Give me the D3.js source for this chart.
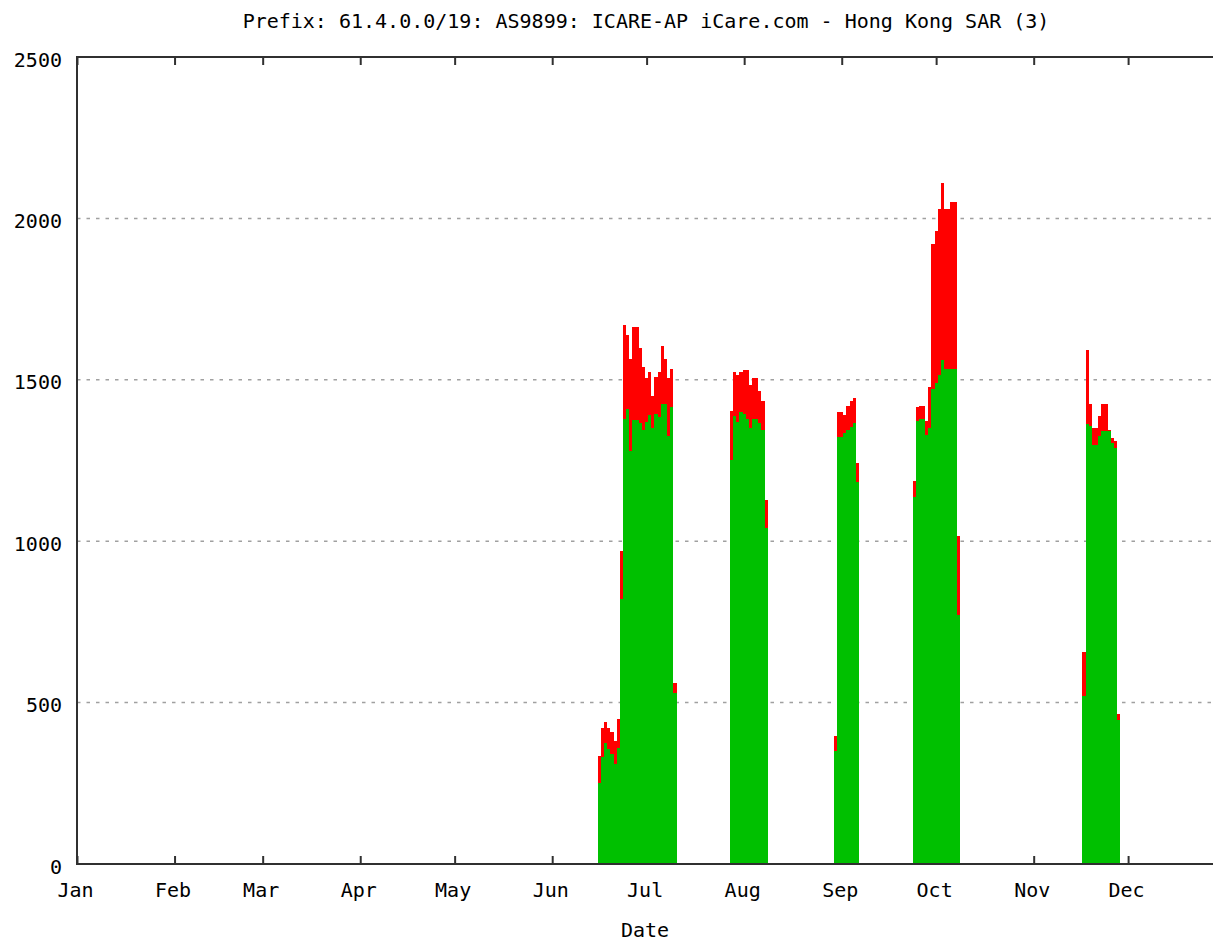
<!DOCTYPE html>
<html>
<head>
<meta charset="utf-8">
<script src="https://cdn.jsdelivr.net/npm/d3@7"></script>
<style>
  body { margin: 0; background: #fff; }
  text { font-family: "DejaVu Sans Mono", monospace; font-size: 20px; fill: #000; }
</style>
</head>
<body>
<div id="container"></div>
<script>
const width = 1213, height = 941;

// one entry per day (2003 calendar, x axis starts Jan 1)
const days = [
    "06-16", "06-17", "06-18", "06-19", "06-20", "06-21", "06-22", "06-23", "06-24", "06-25",
    "06-26", "06-27", "06-28", "06-29", "06-30", "07-01", "07-02", "07-03", "07-04", "07-05",
    "07-06", "07-07", "07-08", "07-09", "07-10",
    "07-28", "07-29", "07-30", "07-31", "08-01", "08-02", "08-03", "08-04", "08-05", "08-06",
    "08-07", "08-08",
    "08-30", "08-31", "09-01", "09-02", "09-03", "09-04", "09-05", "09-06",
    "09-24", "09-25", "09-26", "09-27", "09-28", "09-29", "09-30", "10-01", "10-02", "10-03",
    "10-04", "10-05", "10-06", "10-07", "10-08",
    "11-17", "11-18", "11-19", "11-20", "11-21", "11-22", "11-23", "11-24", "11-25", "11-26",
    "11-27", "11-28"
];

// green part (bottom of stack)
const greenVals = [
    250, 330, 375, 355, 340, 310, 360, 820, 1380, 1410,
    1280, 1375, 1375, 1365, 1345, 1370, 1390, 1350, 1395, 1385,
    1425, 1425, 1325, 1415, 530,
    1253, 1388, 1370, 1400, 1395, 1378, 1350, 1378, 1378, 1367,
    1345, 1040,
    350, 1322, 1322, 1335, 1345, 1355, 1366, 1184,
    1137, 1372, 1380, 1380, 1330, 1350, 1470, 1490, 1515, 1560,
    1535, 1535, 1535, 1535, 770,
    520, 1362, 1357, 1299, 1299, 1325, 1341, 1341, 1341, 1304,
    1289, 447
];

// red part (top of stack)
const redVals = [
    85, 90, 65, 65, 70, 70, 90, 150, 290, 230,
    285, 290, 290, 235, 195, 135, 135, 100, 115, 140,
    180, 140, 180, 120, 30,
    150, 135, 145, 125, 135, 152, 135, 129, 129, 99,
    90, 88,
    45, 78, 78, 55, 75, 80, 77, 57,
    48, 43, 40, 40, 42, 128, 450, 470, 515, 550,
    495, 495, 515, 515, 245,
    136, 230, 68, 52, 52, 63, 84, 84, 4, 16,
    21, 17
];

const yTicks = [0, 500, 1000, 1500, 2000, 2500];
const gridVals = [500, 1000, 1500, 2000];

const parse = d3.utcParse("%Y-%m-%d");
const rows = days.map((d, i) => ({
    date: parse("2003-" + d),
    green: greenVals[i],
    red: redVals[i]
}));

const plotLeft = 77, plotTop = 57, plotBottom = 864;
const dayPx = 3.147;

const x = d3.scaleUtc()
    .domain([parse("2003-01-01"), parse("2004-01-01")])
    .range([plotLeft, plotLeft + 365 * dayPx]);

const y = d3.scaleLinear()
    .domain([0, 2500])
    .range([plotBottom, plotTop]);

const svg = d3.select('#container')
    .append('svg')
    .attr('width', width)
    .attr('height', height);

svg.append('rect')
    .attr('width', width)
    .attr('height', height)
    .attr('fill', '#fff');

// dashed grid
svg.append('g')
    .selectAll('line')
    .data(gridVals)
    .enter()
    .append('line')
    .attr('x1', plotLeft)
    .attr('x2', width)
    .attr('y1', d => y(d))
    .attr('y2', d => y(d))
    .attr('stroke', '#a0a0a0')
    .attr('stroke-width', 1.5)
    .attr('stroke-dasharray', '3.5,6');

const months = d3.utcMonth.range(parse("2003-01-01"), parse("2004-01-01"));

// bottom axis, ticks pointing inward
const xAxis = svg.append('g')
    .attr('transform', `translate(0,${plotBottom})`)
    .call(d3.axisBottom(x)
        .tickValues(months)
        .tickFormat(d3.utcFormat("%b"))
        .tickSize(-8)
        .tickPadding(19));
xAxis.select('.domain').remove();
xAxis.selectAll('line').attr('stroke', '#303030').attr('stroke-width', 2);
xAxis.selectAll('text')
    .attr('x', -2)
    .style('font-family', '"DejaVu Sans Mono", monospace')
    .style('font-size', '20px');

// mirrored ticks on top
const xTop = svg.append('g')
    .attr('transform', `translate(0,${plotTop})`)
    .call(d3.axisTop(x)
        .tickValues(months)
        .tickFormat('')
        .tickSize(-8));
xTop.select('.domain').remove();
xTop.selectAll('line').attr('stroke', '#303030').attr('stroke-width', 2);

const yAxis = svg.append('g')
    .attr('transform', `translate(${plotLeft},0)`)
    .call(d3.axisLeft(y)
        .tickValues(yTicks)
        .tickFormat(d3.format('d'))
        .tickSize(0)
        .tickPadding(15));
yAxis.select('.domain').remove();
yAxis.selectAll('text')
    .attr('dy', '0.45em')
    .style('font-family', '"DejaVu Sans Mono", monospace')
    .style('font-size', '20px');

// stacked daily bars
const stack = d3.stack().keys(['green', 'red'])(rows);
const colors = { green: '#00c000', red: '#ff0000' };
const halfDay = 12 * 3600 * 1000;

svg.append('g')
    .selectAll('g')
    .data(stack)
    .enter()
    .append('g')
    .attr('fill', s => colors[s.key])
    .selectAll('rect')
    .data(s => s)
    .enter()
    .append('rect')
    .attr('x', d => x(new Date(+d.data.date - halfDay)))
    .attr('width', d => x(new Date(+d.data.date + halfDay)) - x(new Date(+d.data.date - halfDay)))
    .attr('y', d => y(d[1]))
    .attr('height', d => y(d[0]) - y(d[1]))
    .attr('shape-rendering', 'crispEdges');

// plot border (right side falls off canvas)
svg.append('path')
    .attr('d', `M${width},${plotTop}H${plotLeft}V${plotBottom}H${width}`)
    .attr('fill', 'none')
    .attr('stroke', '#303030')
    .attr('stroke-width', 2);

svg.append('text')
    .attr('x', 646)
    .attr('y', 28)
    .attr('text-anchor', 'middle')
    .text('Prefix: 61.4.0.0/19: AS9899: ICARE-AP iCare.com - Hong Kong SAR (3)');

svg.append('text')
    .attr('x', 645)
    .attr('y', 937)
    .attr('text-anchor', 'middle')
    .text('Date');
</script>
</body>
</html>
